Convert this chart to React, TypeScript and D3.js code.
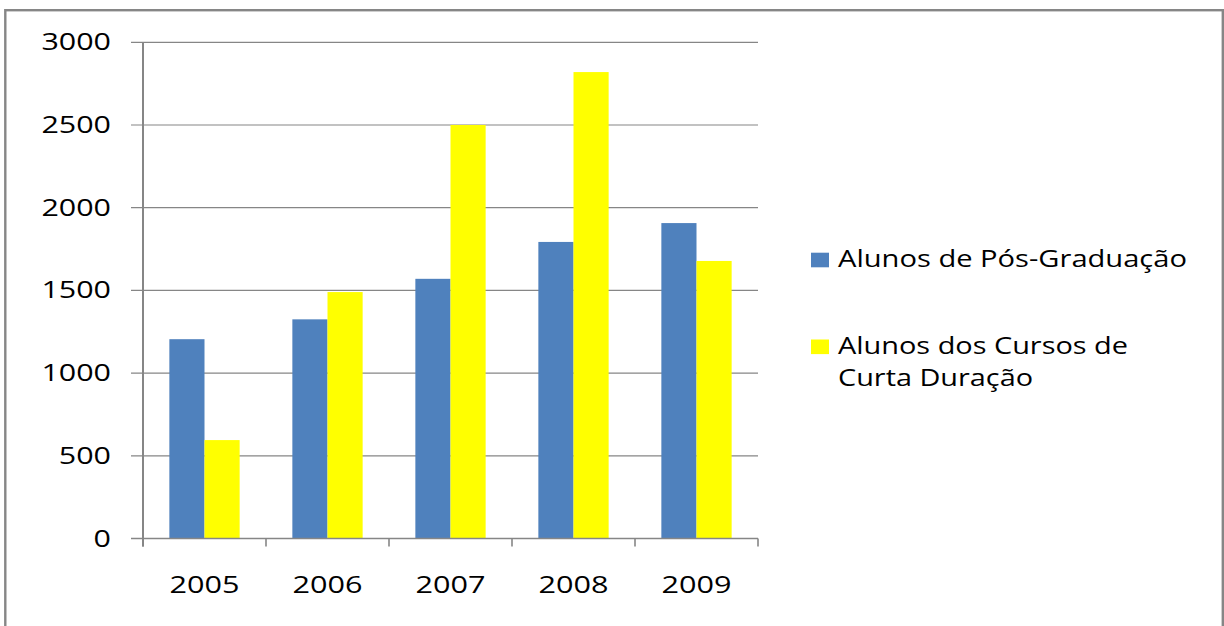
import React from "react";
import * as d3 from "d3";

const years = ["2005", "2006", "2007", "2008", "2009"];
const seriesNames = ["Alunos de Pós-Graduação", "Alunos dos Cursos de Curta Duração"];
const posGraduacao = [1205, 1325, 1570, 1793, 1907];
const curtaDuracao = [595, 1490, 2500, 2820, 1678];
const yTicks = [0, 500, 1000, 1500, 2000, 2500, 3000];
const colors = ["#4F81BD", "#FFFF00"];

const W = 1224;
const H = 626;
const plotLeft = 143;
const plotRight = 758;
const plotTop = 42.3;
const plotBottom = 538.5;
const gray = "#868686";
const font = "'Open Sans', 'DejaVu Sans', sans-serif";

export default function App() {
  const x = d3.scaleBand<string>().domain(years).range([plotLeft, plotRight]).padding(0);
  const y = d3.scaleLinear().domain([0, 3000]).range([plotBottom, plotTop]);
  const bw = x.bandwidth() / 3.5;
  const x1 = d3
    .scaleBand<number>()
    .domain([0, 1])
    .range([(x.bandwidth() - 2 * bw) / 2, (x.bandwidth() - 2 * bw) / 2 + 2 * bw])
    .padding(0);
  const series = [posGraduacao, curtaDuracao];
  const boundaries = years.map((yr) => x(yr) as number).concat([plotRight]);

  return (
    <div style={{ position: "absolute", left: 0, top: 0 }}>
      <svg width={W} height={H} style={{ display: "block" }}>
        <rect x={0} y={0} width={W} height={H} fill="#fff" />
        <rect x={5.3} y={10.2} width={1217.5} height={640} fill="none" stroke={gray} strokeWidth={2.4} />

        {/* gridlines with outward ticks */}
        {yTicks.map((t) => (
          <line key={"g" + t} x1={131} x2={plotRight} y1={y(t)} y2={y(t)} stroke={gray} strokeWidth={1.2} />
        ))}

        {/* bars */}
        {series.map((vals, si) =>
          vals.map((v, i) => (
            <rect
              key={"b" + si + "-" + i}
              x={(x(years[i]) as number) + (x1(si) as number)}
              y={y(v)}
              width={x1.bandwidth()}
              height={y(0) - y(v)}
              fill={colors[si]}
            />
          ))
        )}

        {/* y axis */}
        <line x1={plotLeft} x2={plotLeft} y1={plotTop} y2={plotBottom + 8} stroke={gray} strokeWidth={2} />
        {/* x axis */}
        <line x1={131} x2={plotRight} y1={plotBottom} y2={plotBottom} stroke={gray} strokeWidth={1.4} />
        {boundaries.map((bx, i) => (
          <line key={"t" + i} x1={bx} x2={bx} y1={plotBottom} y2={plotBottom + 8} stroke={gray} strokeWidth={1.6} />
        ))}

        {/* y labels */}
        {yTicks.map((t) => {
          const s = String(t);
          return (
            <text
              key={"yl" + t}
              x={111}
              y={y(t) + 8}
              textAnchor="end"
              fontFamily={font}
              fontSize={24.5}
              fill="#000"
              textLength={s.length * 17.4}
              lengthAdjust="spacingAndGlyphs"
            >
              {s}
            </text>
          );
        })}

        {/* x labels */}
        {years.map((yr) => (
          <text
            key={"xl" + yr}
            x={(x(yr) as number) + x.bandwidth() / 2}
            y={593}
            textAnchor="middle"
            fontFamily={font}
            fontSize={24.5}
            fill="#000"
            textLength={70}
            lengthAdjust="spacingAndGlyphs"
          >
            {yr}
          </text>
        ))}

        {/* legend */}
        <rect x={811} y={252.7} width={18} height={14.6} fill={colors[0]} />
        <text x={838} y={267.3} fontFamily={font} fontSize={23.5} fill="#000" textLength={349} lengthAdjust="spacingAndGlyphs">
          {seriesNames[0]}
        </text>
        <rect x={811} y={339.5} width={18} height={14.6} fill={colors[1]} />
        <text x={838} y={354} fontFamily={font} fontSize={23.5} fill="#000" textLength={290} lengthAdjust="spacingAndGlyphs">
          Alunos dos Cursos de
        </text>
        <text x={838} y={386} fontFamily={font} fontSize={23.5} fill="#000" textLength={195} lengthAdjust="spacingAndGlyphs">
          Curta Duração
        </text>
      </svg>
    </div>
  );
}
